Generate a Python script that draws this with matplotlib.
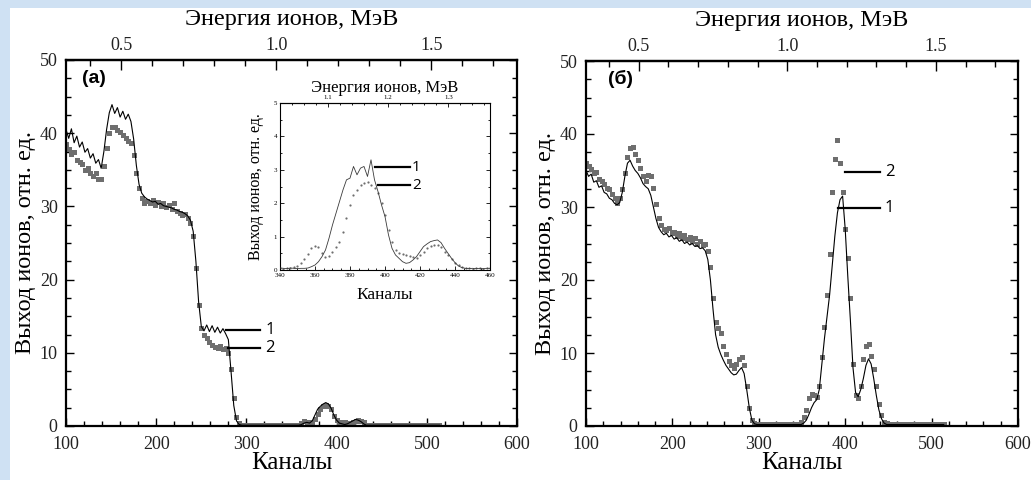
import numpy as np
import matplotlib
matplotlib.use("Agg")
import matplotlib.pyplot as plt
from matplotlib.ticker import MultipleLocator
from matplotlib.patches import Rectangle

# channel grid (every 3rd channel) used by both main panels
channels = np.arange(100, 515, 3)

# panel (a): 1 = calculation (line), 2 = experiment (squares)
a_calc = [
    40.5, 39.3, 40.6, 38.7, 39.6, 38.1, 38.8, 37.4, 37.9, 36.6,
    37.2, 35.9, 36.4, 35.2, 37.5, 40.5, 42.8, 43.9, 42.7, 43.5,
    42.2, 43.0, 41.9, 42.6, 41.6, 39.2, 35.6, 33.0, 31.8, 31.3,
    31.0, 30.8, 30.6, 30.7, 30.3, 30.4, 30.1, 30.0, 29.9, 29.8,
    29.6, 29.5, 29.3, 29.2, 29.0, 28.7, 28.1, 26.6, 22.5, 17.0,
    13.6, 13.0, 13.8, 12.9, 13.7, 12.8, 13.5, 12.7, 13.3, 12.6,
    11.8, 7.4, 2.8, 0.7, 0.2, 0.1, 0.1, 0.1, 0.1, 0.1,
    0.1, 0.1, 0.1, 0.1, 0.1, 0.1, 0.1, 0.1, 0.1, 0.1,
    0.1, 0.1, 0.1, 0.1, 0.1, 0.1, 0.1, 0.2, 0.4, 0.5,
    0.4, 0.7, 1.5, 2.3, 2.7, 3.0, 3.2, 3.0, 2.4, 1.5,
    0.8, 0.4, 0.3, 0.2, 0.3, 0.5, 0.7, 0.9, 0.8, 0.6,
    0.3, 0.1, 0.1, 0.1, 0.1, 0.1, 0.1, 0.1, 0.1, 0.1,
    0.1, 0.1, 0.1, 0.1, 0.1, 0.1, 0.1, 0.1, 0.1, 0.1,
    0.1, 0.1, 0.1, 0.1, 0.1, 0.1, 0.1, 0.1, 0.1,
]
a_exp = [
    38.5, 37.8, 37.2, 37.5, 36.4, 36.0, 35.8, 35.0, 35.3, 34.6,
    34.2, 34.5, 33.8, 33.7, 35.5, 38.0, 40.0, 40.8, 40.9, 40.4,
    40.2, 39.8, 39.4, 39.0, 38.6, 37.0, 34.5, 32.5, 31.2, 30.5,
    30.8, 30.4, 30.9, 30.2, 30.6, 30.0, 30.4, 29.9, 30.2, 29.7,
    30.5, 29.4, 29.1, 28.8, 28.9, 28.4, 27.8, 26.0, 21.6, 16.5,
    13.4, 12.4, 12.0, 11.5, 11.0, 10.8, 10.6, 10.9, 10.5, 10.6,
    10.0, 7.8, 3.8, 1.2, 0.4, 0.2, 0.1, 0.1, 0.1, 0.1,
    0.1, 0.1, 0.1, 0.1, 0.1, 0.1, 0.1, 0.1, 0.1, 0.1,
    0.1, 0.1, 0.1, 0.1, 0.1, 0.1, 0.2, 0.4, 0.7, 0.6,
    0.5, 0.6, 0.9, 1.6, 2.3, 2.7, 2.9, 2.8, 2.3, 1.4,
    0.8, 0.6, 0.5, 0.5, 0.4, 0.4, 0.5, 0.7, 0.8, 0.7,
    0.5, 0.2, 0.1, 0.1, 0.1, 0.1, 0.1, 0.1, 0.1, 0.1,
    0.1, 0.1, 0.1, 0.1, 0.1, 0.1, 0.1, 0.1, 0.1, 0.1,
    0.1, 0.1, 0.1, 0.1, 0.1, 0.1, 0.1, 0.1, 0.1,
]

# panel (b)
b_calc = [
    35.0, 34.2, 34.5, 33.4, 33.6, 32.7, 32.9, 32.0, 31.8, 31.2,
    31.0, 30.5, 30.3, 30.6, 32.0, 34.2, 36.0, 36.4, 35.6, 35.0,
    34.6, 34.0, 33.2, 32.8, 32.5, 31.6, 30.0, 28.4, 27.2, 26.6,
    26.2, 26.4, 25.9, 26.1, 25.6, 25.8, 25.3, 25.5, 25.0, 25.2,
    24.8, 25.0, 24.6, 24.7, 24.3, 24.4, 24.0, 22.8, 20.0, 16.0,
    12.5, 10.8, 9.8, 9.0, 8.3, 7.8, 7.3, 7.0, 7.1, 7.6,
    8.0, 7.2, 5.0, 2.5, 0.8, 0.3, 0.2, 0.2, 0.2, 0.2,
    0.2, 0.2, 0.2, 0.2, 0.2, 0.2, 0.2, 0.2, 0.2, 0.2,
    0.2, 0.2, 0.2, 0.2, 0.4, 0.8, 1.6, 2.5, 3.2, 3.6,
    5.0, 8.5, 12.0, 15.0, 18.0, 22.0, 26.0, 29.2, 31.0, 31.5,
    27.0, 20.5, 14.5, 8.0, 4.6, 4.0, 5.0, 6.5, 8.3, 9.2,
    8.5, 6.5, 4.2, 2.2, 1.0, 0.4, 0.2, 0.2, 0.2, 0.2,
    0.2, 0.2, 0.2, 0.2, 0.2, 0.2, 0.2, 0.2, 0.2, 0.2,
    0.2, 0.2, 0.2, 0.2, 0.2, 0.2, 0.2, 0.2, 0.2,
]
b_exp = [
    36.0, 35.6, 35.2, 34.6, 34.8, 33.9, 33.5, 33.2, 32.6, 32.4,
    31.8, 31.3, 30.6, 31.2, 32.5, 34.6, 36.8, 38.1, 38.2, 37.2,
    36.4, 35.3, 34.2, 33.6, 34.4, 34.2, 32.6, 30.4, 28.5, 27.6,
    27.0, 26.8, 27.1, 26.4, 26.6, 26.0, 26.5, 25.8, 26.2, 25.6,
    25.9, 25.3, 25.7, 25.0, 25.4, 24.8, 25.0, 24.0, 21.8, 17.5,
    14.2, 13.4, 12.8, 11.0, 9.8, 8.9, 8.3, 8.0, 8.5, 9.2,
    9.4, 8.4, 5.5, 2.4, 0.8, 0.4, 0.3, 0.3, 0.3, 0.3,
    0.3, 0.3, 0.3, 0.3, 0.3, 0.3, 0.3, 0.3, 0.3, 0.3,
    0.3, 0.3, 0.3, 0.5, 1.2, 2.2, 3.8, 4.4, 4.3, 4.0,
    5.5, 9.5, 13.5, 18.0, 23.5, 32.0, 36.6, 39.2, 36.0, 32.0,
    27.0, 23.0, 17.5, 8.5, 4.2, 3.8, 5.5, 9.2, 11.0, 11.3,
    9.6, 7.8, 5.5, 3.0, 1.5, 0.6, 0.4, 0.3, 0.3, 0.3,
    0.3, 0.3, 0.3, 0.3, 0.3, 0.3, 0.3, 0.3, 0.3, 0.3,
    0.3, 0.3, 0.3, 0.3, 0.3, 0.3, 0.3, 0.3, 0.3,
]

# inset of panel (a), every 2nd channel 340..460
inset_channels = np.arange(340, 461, 2)
inset_calc = [
    0.06, 0.05, 0.04, 0.06, 0.05, 0.04, 0.05,
    0.05, 0.06, 0.10, 0.15, 0.25, 0.40, 0.60, 0.95, 1.35, 1.70,
    2.05, 2.40, 2.70, 2.75, 3.10, 2.85, 3.05, 3.10, 2.80, 3.30,
    2.70, 2.35, 1.95, 1.60, 1.05, 0.65, 0.45, 0.35, 0.25, 0.20,
    0.22, 0.30, 0.40, 0.55, 0.70, 0.78, 0.85, 0.88, 0.90, 0.82,
    0.65, 0.50, 0.35, 0.22, 0.12, 0.07, 0.05, 0.04, 0.05, 0.04,
    0.05, 0.04, 0.05, 0.05,
]
inset_exp = [
    0.05, 0.04, 0.06, 0.05, 0.08, 0.12, 0.20,
    0.32, 0.48, 0.65, 0.72, 0.68, 0.50, 0.38, 0.42, 0.55, 0.70,
    0.85, 1.15, 1.55, 1.95, 2.25, 2.40, 2.55, 2.60, 2.62, 2.55,
    2.45, 2.30, 2.00, 1.65, 1.20, 0.85, 0.60, 0.52, 0.48, 0.46,
    0.42, 0.38, 0.36, 0.45, 0.55, 0.65, 0.72, 0.75, 0.74, 0.70,
    0.55, 0.45, 0.32, 0.20, 0.14, 0.08, 0.05, 0.05, 0.04, 0.05,
    0.05, 0.04, 0.05, 0.05,
]

energy_ticks = [0.5, 1.0, 1.5]
inset_energy_ticks = [1.1, 1.2, 1.3]


def ch2e(c):
    return 0.5 + (np.asarray(c, dtype=float) - 161.0) / 344.0


def e2ch(e):
    return 161.0 + (np.asarray(e, dtype=float) - 0.5) * 344.0


SERIF = "Liberation Serif"
SANS = "Liberation Sans"
GRAY = "#6e6e6e"

fig = plt.figure(figsize=(10.31, 4.8), dpi=100)
fig.patch.set_facecolor("#cfe1f3")
fig.patches.append(Rectangle((10 / 1031, 0), 1, 472 / 480, transform=fig.transFigure,
                             facecolor="white", edgecolor="none", zorder=-10))

W, H = 1031.0, 480.0
ax_a = fig.add_axes([66 / W, 1 - 426 / H, 451 / W, 366 / H])
ax_b = fig.add_axes([586 / W, 1 - 426 / H, 432 / W, 365 / H])


def style_main(ax, ylab_x):
    ax.set_xlim(100, 600)
    ax.set_ylim(0, 50)
    ax.xaxis.set_major_locator(MultipleLocator(100))
    ax.xaxis.set_minor_locator(MultipleLocator(20))
    ax.yaxis.set_major_locator(MultipleLocator(10))
    ax.yaxis.set_minor_locator(MultipleLocator(2.5))
    ax.tick_params(which="both", direction="in", top=False, right=True, width=1.0)
    ax.tick_params(which="major", length=6, labelsize=13)
    ax.tick_params(axis="x", which="major", pad=7)
    ax.tick_params(axis="y", which="major", pad=6)
    ax.tick_params(which="minor", length=3.5)
    for lab in ax.get_xticklabels() + ax.get_yticklabels():
        lab.set_fontfamily(SERIF)
        lab.set_color("#222222")
    for s in ax.spines.values():
        s.set_linewidth(1.6)
    ax.set_xlabel("Каналы", fontsize=18, fontfamily=SERIF)
    ax.xaxis.set_label_coords(0.5, -0.07)
    ax.set_ylabel("Выход ионов, отн. ед.", fontsize=17.5, fontfamily=SERIF)
    ax.yaxis.set_label_coords(ylab_x, 0.5)

    sec = ax.secondary_xaxis("top", functions=(ch2e, e2ch))
    sec.set_xticks(energy_ticks)
    sec.set_xticklabels(["%.1f" % e for e in energy_ticks], fontfamily=SERIF, color="#222222")
    sec.xaxis.set_minor_locator(MultipleLocator(0.1))
    sec.tick_params(which="both", direction="in", width=1.0)
    sec.tick_params(which="major", length=7, labelsize=13, pad=4)
    sec.tick_params(which="minor", length=4)
    sec.spines["top"].set_linewidth(1.6)
    sec.set_xlabel("Энергия ионов, МэВ", fontsize=17.5, fontfamily=SERIF, labelpad=9)


for ax, calc, exp, ylx in [(ax_a, a_calc, a_exp, -0.066), (ax_b, b_calc, b_exp, -0.07)]:
    ax.plot(channels, exp, linestyle="none", marker="s", markersize=3.6,
            color=GRAY, markeredgewidth=0, zorder=2)
    ax.plot(channels, calc, color="black", linewidth=0.8, zorder=3)
    style_main(ax, ylx)

ax_a.text(0.035, 0.973, "(а)", transform=ax_a.transAxes, fontsize=14,
          fontfamily=SANS, fontweight="bold", va="top")
ax_b.text(0.05, 0.975, "(б)", transform=ax_b.transAxes, fontsize=14,
          fontfamily=SANS, fontweight="bold", va="top")


# callouts
def callout(ax, x0, x1, y, label, fs=12):
    ax.plot([x0, x1], [y, y], color="black", linewidth=1.6, zorder=4)
    ax.text(x1 + 6 * (ax.get_xlim()[1] - ax.get_xlim()[0]) / 500, y, label,
            fontsize=fs, fontfamily="Open Sans", va="center", ha="left")


callout(ax_a, 277, 315, 13.1, "1")
callout(ax_a, 280, 315, 10.6, "2")
callout(ax_b, 400, 440, 34.8, "2")
callout(ax_b, 392, 440, 29.8, "1")

# inset
ins = fig.add_axes([280 / W, 1 - 270 / H, 210 / W, 167 / H])
ins.plot(inset_channels, inset_calc, color="#3a3a3a", linewidth=0.6, zorder=3)
ins.plot(inset_channels, inset_exp, linestyle="none", marker="o", markersize=1.6,
         color=GRAY, markeredgewidth=0, zorder=2)
ins.set_xlim(340, 460)
ins.set_ylim(0, 5)
ins.xaxis.set_major_locator(MultipleLocator(20))
ins.xaxis.set_minor_locator(MultipleLocator(5))
ins.yaxis.set_major_locator(MultipleLocator(1))
ins.yaxis.set_minor_locator(MultipleLocator(0.5))
ins.tick_params(which="both", direction="in", right=True, top=False, width=0.6)
ins.tick_params(which="major", length=3, labelsize=5, pad=2)
ins.tick_params(which="minor", length=1.5)
for lab in ins.get_xticklabels() + ins.get_yticklabels():
    lab.set_fontfamily(SERIF)
for s in ins.spines.values():
    s.set_linewidth(0.8)
ins.set_xlabel("Каналы", fontsize=12.5, fontfamily=SERIF)
ins.xaxis.set_label_coords(0.5, -0.1)
ins.set_ylabel("Выход ионов, отн. ед.", fontsize=11.5, fontfamily=SERIF)
ins.yaxis.set_label_coords(-0.075, 0.5)
isec = ins.secondary_xaxis("top", functions=(ch2e, e2ch))
isec.set_xticks(inset_energy_ticks)
isec.set_xticklabels(["%.1f" % e for e in inset_energy_ticks], fontfamily=SERIF)
isec.xaxis.set_minor_locator(MultipleLocator(0.02))
isec.tick_params(which="both", direction="in", width=0.6)
isec.tick_params(which="major", length=3, labelsize=5, pad=2)
isec.tick_params(which="minor", length=1.5)
isec.spines["top"].set_linewidth(0.8)
isec.set_xlabel("Энергия ионов, МэВ", fontsize=12, fontfamily=SERIF, labelpad=2)

callout(ins, 394, 414, 3.08, "1", fs=11)
callout(ins, 396, 414, 2.54, "2", fs=11)

fig.savefig("out.png", dpi=100, facecolor=fig.get_facecolor())
